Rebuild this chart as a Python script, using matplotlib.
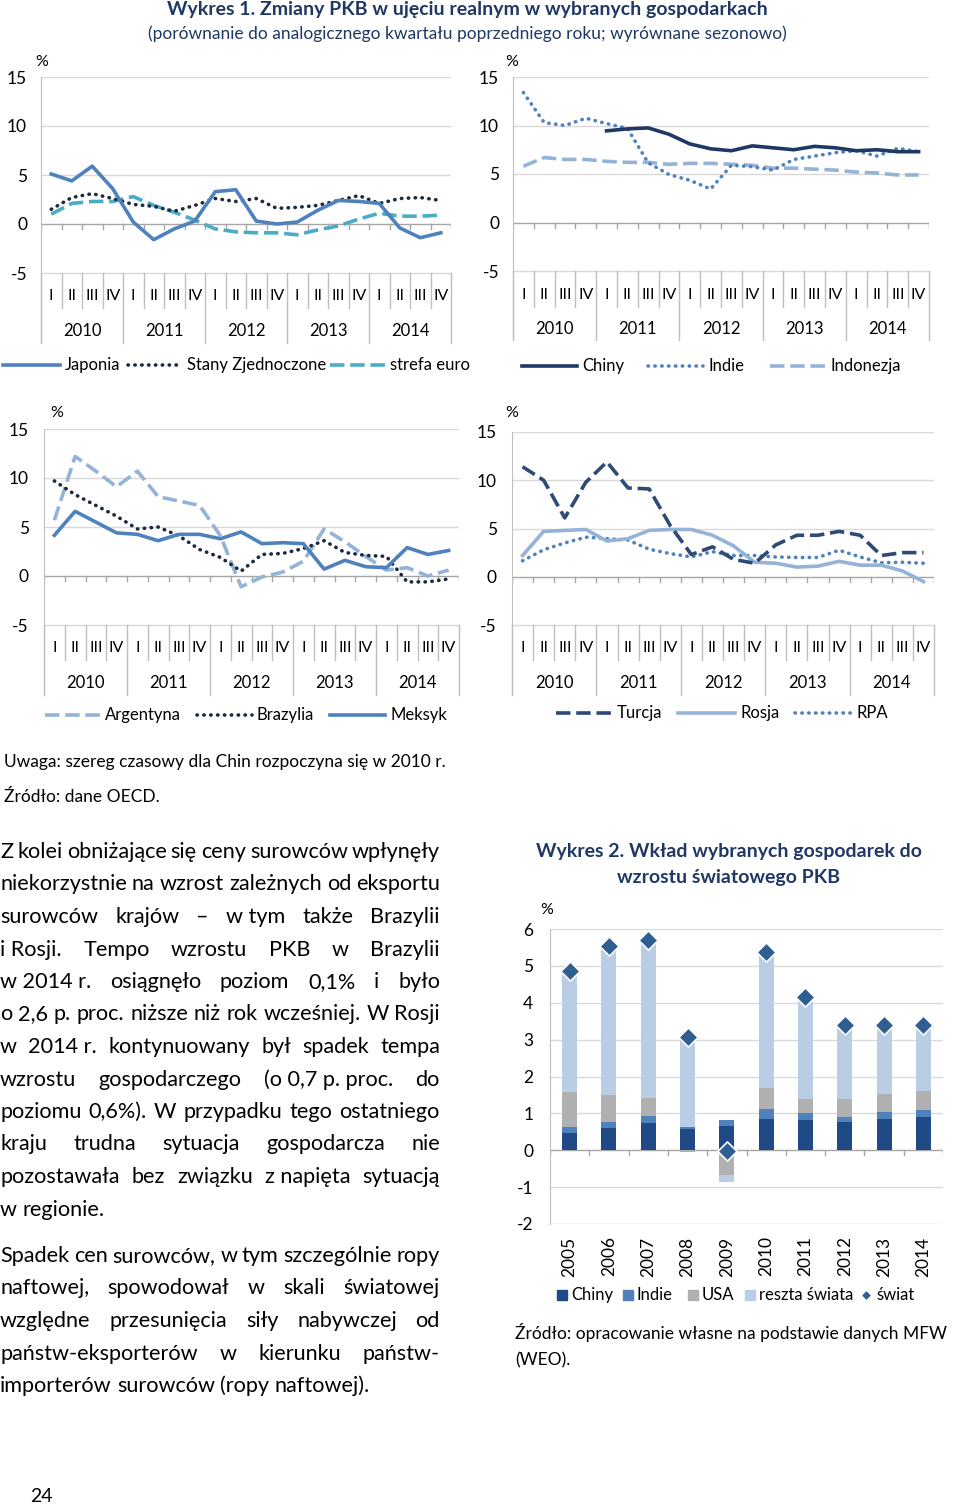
import matplotlib
matplotlib.use('Agg')
import matplotlib.pyplot as plt
from matplotlib.patches import Rectangle
import numpy as np

plt.rcParams['font.family'] = ['Lato', 'DejaVu Sans']
plt.rcParams['axes.unicode_minus'] = False

W, H = 960, 1507
NAVY = '#1F3864'
GRID = '#D9D9D9'
AXIS = '#BFBFBF'

# ---- data: Wykres 1 (quarters 2010 I .. 2014 IV) ----
quarters = ['I', 'II', 'III', 'IV'] * 5
years = ['2010', '2011', '2012', '2013', '2014']

japonia = [5.1, 4.4, 5.9, 3.6, 0.2, -1.6, -0.5, 0.3, 3.3, 3.5,
           0.3, 0.0, 0.2, 1.4, 2.4, 2.3, 2.1, -0.4, -1.4, -0.9]
usa = [1.5, 2.7, 3.1, 2.6, 2.0, 1.8, 1.3, 1.9, 2.6, 2.3,
       2.6, 1.6, 1.7, 1.9, 2.4, 2.9, 2.1, 2.6, 2.7, 2.4]
strefa_euro = [1.0, 2.1, 2.3, 2.3, 2.8, 1.9, 1.2, 0.4, -0.5, -0.8,
               -0.9, -0.9, -1.1, -0.6, -0.2, 0.5, 1.1, 0.8, 0.8, 0.9]

chiny = [np.nan, np.nan, np.nan, np.nan, 9.45, 9.65, 9.75, 9.1, 8.1, 7.6,
         7.4, 7.9, 7.7, 7.5, 7.85, 7.7, 7.4, 7.5, 7.3, 7.3]
indie = [13.4, 10.3, 10.0, 10.75, 10.2, 9.7, 6.15, 4.95, 4.35, 3.45,
         5.9, 5.75, 5.4, 6.5, 6.85, 7.2, 7.4, 6.85, 7.65, 7.3]
indonezja = [5.8, 6.7, 6.5, 6.5, 6.3, 6.2, 6.2, 6.0, 6.1, 6.1,
             6.0, 5.9, 5.6, 5.6, 5.5, 5.4, 5.2, 5.1, 4.9, 4.9]

argentyna = [5.7, 12.2, 10.7, 9.1, 10.7, 8.1, 7.65, 7.2, 4.1, -1.1,
             -0.1, 0.4, 1.5, 4.8, 3.5, 2.0, 0.6, 0.85, 0.0, 0.6]
brazylia = [9.7, 8.3, 7.2, 6.1, 4.8, 5.0, 4.1, 2.7, 1.9, 0.5,
            2.2, 2.3, 2.8, 3.6, 2.4, 2.1, 2.0, -0.6, -0.6, -0.3]
meksyk = [4.15, 6.6, 5.5, 4.4, 4.25, 3.6, 4.25, 4.25, 3.8, 4.5,
          3.3, 3.4, 3.3, 0.7, 1.6, 0.95, 0.85, 2.9, 2.2, 2.6]

turcja = [11.4, 10.0, 6.1, 9.8, 11.9, 9.2, 9.1, 5.3, 2.3, 3.1,
          1.8, 1.4, 3.3, 4.3, 4.3, 4.7, 4.3, 2.2, 2.5, 2.5]
rosja = [2.2, 4.7, 4.8, 4.9, 3.7, 3.95, 4.8, 4.9, 4.9, 4.3,
         3.2, 1.5, 1.4, 1.0, 1.1, 1.6, 1.2, 1.2, 0.6, -0.5]
rpa = [1.65, 2.8, 3.5, 4.1, 3.95, 3.8, 2.85, 2.4, 2.05, 2.6,
       2.2, 2.2, 2.05, 2.0, 2.0, 2.75, 2.05, 1.45, 1.5, 1.4]

# ---- data: Wykres 2 ----
bar_years = ['2005', '2006', '2007', '2008', '2009',
             '2010', '2011', '2012', '2013', '2014']
wk_chiny = [0.48, 0.59, 0.75, 0.57, 0.65, 0.86, 0.82, 0.77, 0.86, 0.90]
wk_indie = [0.16, 0.18, 0.19, 0.07, 0.16, 0.25, 0.18, 0.12, 0.19, 0.19]
wk_usa = [0.95, 0.74, 0.49, -0.06, -0.68, 0.59, 0.38, 0.50, 0.47, 0.53]
wk_reszta = [3.27, 4.03, 4.26, 2.42, -0.18, 3.68, 2.78, 2.00, 1.88, 1.77]
wk_swiat = [4.86, 5.54, 5.69, 3.06, -0.02, 5.38, 4.16, 3.39, 3.40, 3.39]

fig = plt.figure(figsize=(W / 100, H / 100), dpi=100)
page = fig.add_axes([0, 0, 1, 1])
page.set_xlim(0, W)
page.set_ylim(H, 0)
page.axis('off')

DOT = dict(ls=(0, (0.1, 1.8)), dash_capstyle='round', lw=2.6)
DASH = dict(ls=(0, (4, 1.6)), lw=2.6)
SOLID = dict(ls='-', lw=2.6)


def line_panel(left, right, top, m5, bottom, qrow, qsep, yrow, series, pad):
    ppu = (m5 - top) / 20.0
    ymin = -5 - (bottom - m5) / ppu
    ax = fig.add_axes([left / W, 1 - bottom / H, (right - left) / W, (bottom - top) / H])
    ax.set_xlim(0, 20)
    ax.set_ylim(ymin, 15)
    ax.patch.set_alpha(0)
    for s in ['top', 'right', 'bottom']:
        ax.spines[s].set_visible(False)
    ax.spines['left'].set_color(AXIS)
    ax.set_yticks([-5, 0, 5, 10, 15])
    ax.tick_params(axis='y', length=0, pad=pad, labelsize=12.5)
    ax.set_xticks([])
    for v in [-5, 5, 10, 15]:
        ax.axhline(v, color=GRID, lw=1, zorder=1)
    ax.axhline(0, color='#A6A6A6', lw=1, zorder=1)

    def py(p):
        return -5 - (p - m5) / ppu

    for i in range(21):
        low = py(bottom) if i % 4 == 0 else py(qsep)
        ax.plot([i, i], [-5, low], color=AXIS, lw=1, clip_on=False)
        ax.plot([i, i], [0, -5 / ppu], color='#A6A6A6', lw=1)
    x = np.arange(20) + 0.5
    for xi, q in zip(x, quarters):
        ax.text(xi, py(qrow), q, ha='center', va='center', fontsize=11.5)
    for k, yr in enumerate(years):
        ax.text(4 * k + 2, py(yrow), yr, ha='center', va='center', fontsize=12)
    for vals, color, style in series:
        ax.plot(x, vals, color=color, zorder=3, **style)
    return ax


def legend_row(y, items):
    for x0, x1, label, color, style in items:
        page.plot([x0, x1], [y, y], color=color, **style)
        page.text(x1 + 5, y, label, ha='left', va='center', fontsize=12)


# titles
page.text(467, 10, 'Wykres 1. Zmiany PKB w ujęciu realnym w wybranych gospodarkach',
          ha='center', va='center', fontsize=14, fontweight='bold', color=NAVY)
page.text(467, 34, '(porównanie do analogicznego kwartału poprzedniego roku; wyrównane sezonowo)',
          ha='center', va='center', fontsize=12.5, color=NAVY)

c_jap = '#4F81BD'
c_dark = '#1C2A3E'
c_teal = '#4BACC6'
c_chn = '#1F3864'
c_light = '#95B3D7'
c_tur = '#2E4A75'

line_panel(41, 451, 77, 273, 343, 296, 308, 331,
           [(strefa_euro, c_teal, DASH), (usa, c_dark, DOT), (japonia, c_jap, SOLID)], 10)
line_panel(513, 929, 77, 271, 340, 295, 307, 329,
           [(indonezja, c_light, DASH), (indie, c_jap, DOT), (chiny, c_chn, SOLID)], 10)
line_panel(44, 459, 429, 625, 695, 648, 660, 683,
           [(argentyna, c_light, DASH), (brazylia, c_dark, DOT), (meksyk, c_jap, SOLID)], 11)
line_panel(512, 934, 432, 625, 695, 648, 660, 683,
           [(rpa, c_jap, DOT), (rosja, c_light, SOLID), (turcja, c_tur, DASH)], 11)

for x, y in [(42, 62), (512, 62), (57, 413), (512, 413)]:
    page.text(x, y, '%', ha='center', va='center', fontsize=11.5)

legend_row(365, [(3, 60, 'Japonia', c_jap, SOLID),
                 (128, 182, 'Stany Zjednoczone', c_dark, DOT),
                 (330, 385, 'strefa euro', c_teal, DASH)])
legend_row(366, [(522, 577, 'Chiny', c_chn, SOLID),
                 (648, 703, 'Indie', c_jap, DOT),
                 (770, 825, 'Indonezja', c_light, DASH)])
legend_row(715, [(45, 100, 'Argentyna', c_light, DASH),
                 (197, 252, 'Brazylia', c_dark, DOT),
                 (330, 385, 'Meksyk', c_jap, SOLID)])
legend_row(713, [(556, 612, 'Turcja', c_tur, DASH),
                 (678, 735, 'Rosja', c_light, SOLID),
                 (795, 852, 'RPA', c_jap, DOT)])

page.text(4, 762, 'Uwaga: szereg czasowy dla Chin rozpoczyna się w 2010 r.',
          ha='left', va='center', fontsize=12.5)
page.text(4, 797, 'Źródło: dane OECD.', ha='left', va='center', fontsize=12.5)

# ---- Wykres 2 ----
bx = fig.add_axes([550 / W, 1 - 1224 / H, 393 / W, (1224 - 929) / H])
bx.set_xlim(-0.5, 9.5)
bx.set_ylim(-2, 6)
bx.patch.set_alpha(0)
for s in ['top', 'right', 'bottom']:
    bx.spines[s].set_visible(False)
bx.spines['left'].set_color(AXIS)
bx.set_yticks(range(-2, 7))
bx.tick_params(axis='y', length=0, pad=12, labelsize=12.5)
for v in range(-2, 7):
    if v != 0:
        bx.axhline(v, color=GRID, lw=1, zorder=0)
bx.axhline(0, color='#A6A6A6', lw=1, zorder=0)
xb = np.arange(len(bar_years))
for b in np.arange(-0.5, 10, 1.0):
    bx.plot([b, b], [0, -0.13], color='#A6A6A6', lw=1, zorder=0)
bx.set_xticks(xb)
bx.set_xticklabels(bar_years, rotation=90, fontsize=12.5)
bx.tick_params(axis='x', length=0, pad=9)

pos = np.zeros(len(xb))
neg = np.zeros(len(xb))
bar_series = [(wk_chiny, '#1F4A85', 'Chiny'), (wk_indie, '#4F81BD', 'Indie'),
              (wk_usa, '#B0B0B0', 'USA'), (wk_reszta, '#B9CDE5', 'reszta świata')]
for vals, color, name in bar_series:
    v = np.array(vals)
    base = np.where(v >= 0, pos, neg)
    bx.bar(xb, v, bottom=base, width=0.38, color=color, zorder=2)
    pos = np.where(v >= 0, pos + v, pos)
    neg = np.where(v < 0, neg + v, neg)
bx.scatter(xb, wk_swiat, marker='D', s=95, color='#2F5E91', edgecolors='white',
           linewidths=1.2, zorder=4, clip_on=False)

page.text(547, 910, '%', ha='center', va='center', fontsize=11.5)
page.text(729, 852, 'Wykres 2. Wkład wybranych gospodarek do', ha='center', va='center',
          fontsize=14, fontweight='bold', color=NAVY)
page.text(729, 877, 'wzrostu światowego PKB', ha='center', va='center',
          fontsize=14, fontweight='bold', color=NAVY)

lx = [562, 628, 693, 750]
for (vals, color, name), x0 in zip(bar_series, lx):
    page.add_patch(Rectangle((x0 - 5, 1290), 10, 10, color=color))
    page.text(x0 + 9, 1295, name, ha='left', va='center', fontsize=12)
page.scatter([866], [1295], marker='D', s=12, color='#2F5E91')
page.text(876, 1295, 'świat', ha='left', va='center', fontsize=12)

page.text(515, 1333, 'Źródło: opracowanie własne na podstawie danych MFW',
          ha='left', va='center', fontsize=12.5)
page.text(515, 1360, '(WEO).', ha='left', va='center', fontsize=12.5)

# ---- body text (justified) ----
para1 = [
    'Z kolei obniżające się ceny surowców wpłynęły',
    'niekorzystnie na wzrost zależnych od eksportu',
    'surowców krajów – w~tym także Brazylii',
    'i~Rosji. Tempo wzrostu PKB w Brazylii',
    'w~2014~r. osiągnęło poziom 0,1% i było',
    'o 2,6 p. proc. niższe niż rok wcześniej. W Rosji',
    'w 2014~r. kontynuowany był spadek tempa',
    'wzrostu gospodarczego (o~0,7~p.~proc. do',
    'poziomu 0,6%). W przypadku tego ostatniego',
    'kraju trudna sytuacja gospodarcza nie',
    'pozostawała bez związku z~napięta sytuacją',
    'w regionie.',
]
para2 = [
    'Spadek cen surowców, w tym szczególnie ropy',
    'naftowej, spowodował w skali światowej',
    'względne przesunięcia siły nabywczej od',
    'państw-eksporterów w kierunku państw-',
    'importerów surowców (ropy naftowej).',
]
BODY = 15.6
renderer = fig.canvas.get_renderer()


def body_line(text, y, justify, x0=0, x1=440):
    words = [w.replace('~', ' ') for w in text.split(' ')]
    objs = [page.text(x0, y, w, ha='left', va='center', fontsize=BODY) for w in words]
    widths = [o.get_window_extent(renderer).width for o in objs]
    if justify and len(words) > 1:
        gap = (x1 - x0 - sum(widths)) / (len(words) - 1)
    else:
        gap = 0.25 * BODY * 100 / 72
    x = x0
    for o, w in zip(objs, widths):
        o.set_x(x)
        x += w + gap


for i, line in enumerate(para1):
    body_line(line, 852 + i * 32.5, i < len(para1) - 1)
for i, line in enumerate(para2):
    body_line(line, 1256 + i * 32.5, i < len(para2) - 1)

page.text(30, 1497, '24', ha='left', va='center', fontsize=14)

fig.savefig('out.png', dpi=100)
